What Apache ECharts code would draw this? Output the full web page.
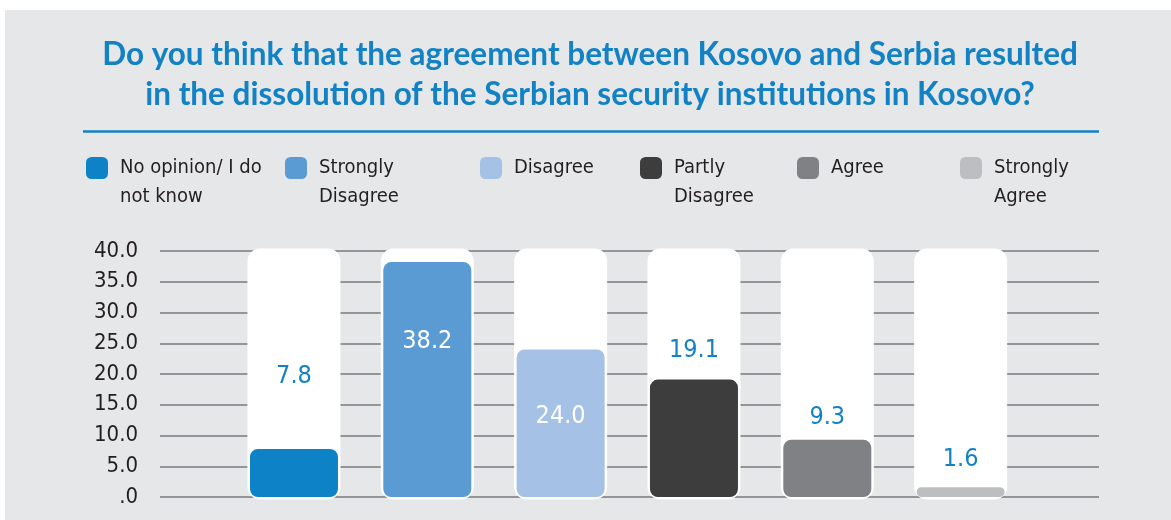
<!DOCTYPE html>
<html><head><meta charset="utf-8">
<script src="https://cdn.jsdelivr.net/npm/echarts@6/dist/echarts.min.js"></script>
<style>html,body{margin:0;padding:0;background:#fff}#c{width:1171px;height:520px}</style>
</head><body><div id="c"></div>
<script>
// ---- data ----
const titleText = 'Do you think that the agreement between Kosovo and Serbia resulted\nin the dissolution of the Serbian security institutions in Kosovo?';
const categories = ['No opinion/ I do not know', 'Strongly Disagree', 'Disagree', 'Partly Disagree', 'Agree', 'Strongly Agree'];
const legendLabels = ['No opinion/ I do\nnot know', 'Strongly\nDisagree', 'Disagree', 'Partly\nDisagree', 'Agree', 'Strongly\nAgree'];
const values = [7.8, 38.2, 24.0, 19.1, 9.3, 1.6];
const yTickValues = [0, 5, 10, 15, 20, 25, 30, 35, 40];
const yTickLabels = ['.0', '5.0', '10.0', '15.0', '20.0', '25.0', '30.0', '35.0', '40.0'];

// ---- styles ----
const colors = ['#0e82c6', '#5b9bd3', '#a5c1e5', '#3d3d3e', '#808184', '#bdbec1'];
const BLUE = '#1282c5';
const NARROW = "'Liberation Sans Narrow', 'DejaVu Sans Condensed', sans-serif";
const labelPlace = [
  {position: 'top', distance: 60, color: BLUE},
  {position: 'insideTop', distance: 67, color: '#ffffff'},
  {position: 'insideTop', distance: 55, color: '#ffffff'},
  {position: 'top', distance: 17, color: BLUE},
  {position: 'top', distance: 10, color: BLUE},
  {position: 'top', distance: 15, color: BLUE}
];
const legendX = [86, 285, 480, 640, 797, 960];

const chart = echarts.init(document.getElementById('c'), null, {renderer: 'canvas'});

const gridTop = 251, gridBottom = 23;

const series = [{
  name: '__bg',
  type: 'bar',
  xAxisIndex: 1, yAxisIndex: 1,
  data: values,
  barWidth: 88,
  barGap: '-100%',
  z: 1,
  silent: true,
  itemStyle: {opacity: 0},
  showBackground: true,
  backgroundStyle: {color: '#ffffff', borderColor: '#ffffff', borderWidth: 5, borderRadius: 10, opacity: 1},
  label: {show: false}
}];
categories.forEach((c, i) => {
  series.push({
    name: c,
    type: 'bar',
    xAxisIndex: 1, yAxisIndex: 1,
    barWidth: 88,
    barGap: '-100%',
    z: 3,
    data: values.map((v, j) => j === i ? v : '-'),
    itemStyle: {color: colors[i], borderRadius: 8},
    label: {
      show: true,
      position: labelPlace[i].position,
      distance: labelPlace[i].distance,
      color: labelPlace[i].color,
      fontSize: 25,
      fontFamily: NARROW,
      formatter: p => p.value.toFixed(1)
    },
    emphasis: {disabled: true}
  });
});

const option = {
  backgroundColor: '#ffffff',
  animation: false,
  title: {
    text: titleText,
    left: 590,
    top: 35,
    padding: 0,
    textAlign: 'center',
    textStyle: {fontFamily: 'Lato', fontWeight: 'bold', fontSize: 31.5, lineHeight: 40, color: BLUE}
  },
  graphic: [
    {type: 'rect', z: -100, silent: true, shape: {x: 5, y: 10, width: 1166, height: 510}, style: {fill: '#e6e7e8'}},
    {type: 'line', z: 5, silent: true, shape: {x1: 83, y1: 131.5, x2: 1099, y2: 131.5}, style: {stroke: BLUE, lineWidth: 2.5}}
  ],
  legend: categories.map((c, i) => ({
    data: [c],
    left: legendX[i],
    top: 124.5,
    padding: 0,
    itemWidth: 22,
    itemHeight: 22,
    icon: 'roundRect',
    selectedMode: false,
    formatter: () => '\n' + legendLabels[i] + (legendLabels[i].indexOf('\n') >= 0 ? '' : '\n'),
    itemStyle: {color: colors[i]},
    textStyle: {
      fontFamily: NARROW, fontSize: 20, lineHeight: 29, color: '#231f20',
      padding: [0, 0, 0, 7]
    }
  })),
  grid: [
    {left: 160, right: 72, top: gridTop, bottom: gridBottom},
    {left: 227.3, right: 143.7, top: gridTop, bottom: gridBottom}
  ],
  xAxis: [
    {gridIndex: 0, type: 'value', show: false, min: 0, max: 1},
    {gridIndex: 1, type: 'category', data: categories, show: false}
  ],
  yAxis: [
    {
      gridIndex: 0, type: 'value', min: 0, max: 40, interval: 5,
      axisLine: {show: false}, axisTick: {show: false},
      splitLine: {show: true, lineStyle: {color: '#939598', width: 2}},
      axisLabel: {
        margin: 22, fontFamily: NARROW, fontSize: 22, color: '#231f20',
        formatter: v => yTickLabels[yTickValues.indexOf(v)]
      }
    },
    {gridIndex: 1, type: 'value', min: 0, max: 40, show: false, splitLine: {show: false}}
  ],
  series: series
};
chart.setOption(option);
</script>
</body></html>
